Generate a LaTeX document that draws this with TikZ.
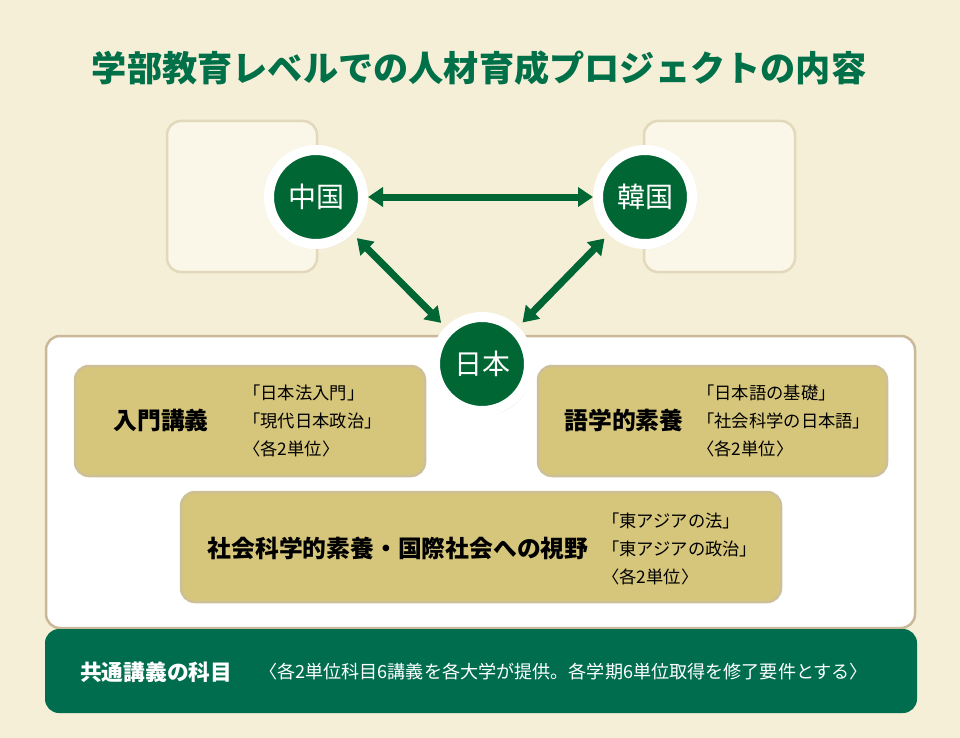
\documentclass[tikz,border=0pt]{standalone}
\usepackage{fontspec}
\setmainfont{Noto Sans CJK JP}
\usetikzlibrary{arrows.meta,shadows}
\definecolor{bgc}{RGB}{245,239,215}
\definecolor{lightfill}{RGB}{250,246,232}
\definecolor{lightline}{RGB}{226,216,188}
\definecolor{panelline}{RGB}{202,184,152}
\definecolor{khaki}{RGB}{214,198,124}
\definecolor{khakiline}{RGB}{206,192,150}
\definecolor{dgreen}{RGB}{0,102,51}
\definecolor{titlegreen}{RGB}{0,112,72}
\definecolor{bargreen}{RGB}{0,110,78}
\tikzset{
  lightbox/.style={fill=lightfill,draw=lightline,line width=2.5pt,rounded corners=14pt},
  panel/.style={fill=white,draw=panelline,line width=2.5pt,rounded corners=14pt},
  khakibox/.style={fill=khaki,draw=khakiline,line width=2.5pt,rounded corners=14pt},
  barbox/.style={fill=bargreen,rounded corners=14pt},
  country/.style={circle,fill=dgreen,draw=white,line width=10pt,minimum size=94pt,inner sep=0pt,
    text=white,font=\fontsize{28}{30}\selectfont,
    drop shadow={shadow xshift=3pt,shadow yshift=-4pt,opacity=0.4,fill=black!70}},
  arr/.style={draw=dgreen,line width=7pt,{Triangle[width=19pt,length=15pt]}-{Triangle[width=19pt,length=15pt]}},
  headtxt/.style={font=\bfseries\fontsize{23.8}{26}\selectfont,text=black,inner sep=0pt},
  subtxt/.style={font=\fontsize{17.3}{28.3}\selectfont,text=black,align=left,inner sep=0pt,anchor=west},
}
\begin{document}
\begin{tikzpicture}[x=1pt,y=-1pt]
\path[fill=bgc] (0,0) rectangle (960,738);
\useasboundingbox (0,0) rectangle (960,738);

% title
\node[font=\bfseries\fontsize{35.2}{38}\selectfont,text=titlegreen,inner sep=0pt] (title) at (479,68) {学部教育レベルでの人材育成プロジェクトの内容};

% light boxes behind China and Korea
\path[lightbox] (167,121) rectangle (317,272);
\path[lightbox] (644,121) rectangle (795,272);

% panel
\path[panel] (46,336) rectangle (915,628);

% khaki boxes
\path[khakibox] (75,366) rectangle (425,476);
\path[khakibox] (538,366) rectangle (887,476);
\path[khakibox] (181,492) rectangle (781,602);

% bottom bar
\path[barbox] (45,629) rectangle (917,713);

% countries
\node[country] (cn) at (316,197) {中国};
\node[country] (kr) at (645,197) {韓国};
\node[country] (jp) at (482,364) {日本};

% arrows
\draw[arr] (cn) -- (kr);
\draw[arr,shorten <=6pt,shorten >=6pt] (cn) -- (jp);
\draw[arr,shorten <=6pt,shorten >=6pt] (kr) -- (jp);

% box texts
\node[headtxt] (t1) at (161,420) {入門講義};
\node[subtxt] (s1) at (243,421) {「日本法入門」\\「現代日本政治」\\〈各2単位〉};
\node[headtxt] (t2) at (624,420) {語学的素養};
\node[subtxt] (s2) at (697,421) {「日本語の基礎」\\「社会科学の日本語」\\〈各2単位〉};
\node[headtxt] (t3) at (398,548) {社会科学的素養・国際社会への視野};
\node[subtxt] (s3) at (602,549) {「東アジアの法」\\「東アジアの政治」\\〈各2単位〉};

% bar texts
\node[font=\bfseries\fontsize{21.7}{24}\selectfont,text=white,inner sep=0pt,anchor=west] (b1) at (80,672) {共通講義の科目};
\node[font=\fontsize{18.1}{20}\selectfont,text=white,inner sep=0pt,anchor=west] (b2) at (259,672) {〈各2単位科目6講義を各大学が提供。各学期6単位取得を修了要件とする〉};
\end{tikzpicture}
\end{document}
